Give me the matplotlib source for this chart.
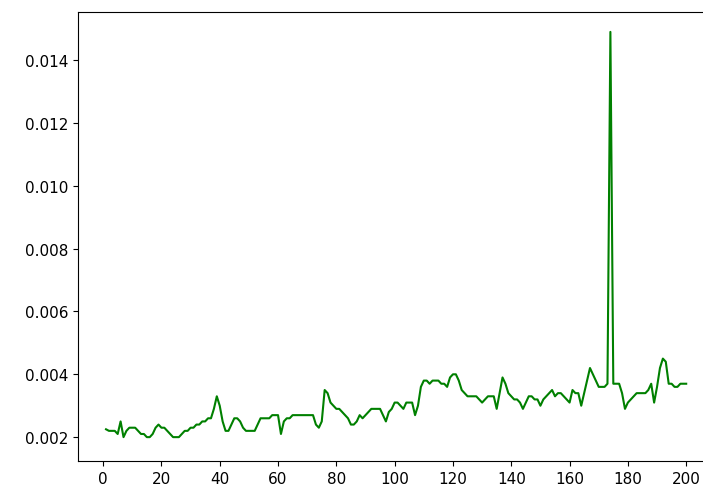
import matplotlib
matplotlib.use('Agg')
import numpy as np
import matplotlib.pyplot as plt

# значения по шагам 1..200
vals_1_33 = [0.00225, 0.0022, 0.0022, 0.0022, 0.0021, 0.0025, 0.0020, 0.0022, 0.0023, 0.0023,
             0.0023, 0.0022, 0.0021, 0.0021, 0.0020, 0.0020, 0.0021, 0.0023, 0.0024, 0.0023,
             0.0023, 0.0022, 0.0021, 0.0020, 0.0020, 0.0020, 0.0021, 0.0022, 0.0022, 0.0023,
             0.0023, 0.0024, 0.0024]
vals_34_65 = [0.0025, 0.0025, 0.0026, 0.0026, 0.0029, 0.0033, 0.0030, 0.0025, 0.0022, 0.0022,
              0.0024, 0.0026, 0.0026, 0.0025, 0.0023, 0.0022, 0.0022, 0.0022, 0.0022, 0.0024,
              0.0026, 0.0026, 0.0026, 0.0026, 0.0027, 0.0027, 0.0027, 0.0021, 0.0025, 0.0026,
              0.0026, 0.0027]
vals_66_98 = [0.0027, 0.0027, 0.0027, 0.0027, 0.0027, 0.0027, 0.0027, 0.0024, 0.0023, 0.0025,
              0.0035, 0.0034, 0.0031, 0.0030, 0.0029, 0.0029, 0.0028, 0.0027, 0.0026, 0.0024,
              0.0024, 0.0025, 0.0027, 0.0026, 0.0027, 0.0028, 0.0029, 0.0029, 0.0029, 0.0029,
              0.0027, 0.0025, 0.0028]
vals_99_131 = [0.0029, 0.0031, 0.0031, 0.0030, 0.0029, 0.0031, 0.0031, 0.0031, 0.0027, 0.0030,
               0.0036, 0.0038, 0.0038, 0.0037, 0.0038, 0.0038, 0.0038, 0.0037, 0.0037, 0.0036,
               0.0039, 0.0040, 0.0040, 0.0038, 0.0035, 0.0034, 0.0033, 0.0033, 0.0033, 0.0033,
               0.0032, 0.0031, 0.0032]
vals_132_163 = [0.0033, 0.0033, 0.0033, 0.0029, 0.0034, 0.0039, 0.0037, 0.0034, 0.0033, 0.0032,
                0.0032, 0.0031, 0.0029, 0.0031, 0.0033, 0.0033, 0.0032, 0.0032, 0.0030, 0.0032,
                0.0033, 0.0034, 0.0035, 0.0033, 0.0034, 0.0034, 0.0033, 0.0032, 0.0031, 0.0035,
                0.0034, 0.0034]
vals_164_200 = [0.0030, 0.0034, 0.0038, 0.0042, 0.0040, 0.0038, 0.0036, 0.0036, 0.0036, 0.0037,
                0.0149, 0.0037, 0.0037, 0.0037, 0.0034, 0.0029, 0.0031, 0.0032, 0.0033, 0.0034,
                0.0034, 0.0034, 0.0034, 0.0035, 0.0037, 0.0031, 0.0036, 0.0042, 0.0045, 0.0044,
                0.0037, 0.0037, 0.0036, 0.0036, 0.0037, 0.0037, 0.0037]

values = vals_1_33 + vals_34_65 + vals_66_98 + vals_99_131 + vals_132_163 + vals_164_200
steps = np.arange(1, len(values) + 1)

fig = plt.figure(figsize=(7.03, 4.89), dpi=100)
ax = fig.add_axes([0.111, 0.0552, 0.902, 0.918])  # правый край за пределами картинки
ax.plot(steps, values, color='g', linewidth=1.5)
ax.set_xlim(-8.6, 208.9)
ax.set_ylim(0.00124, 0.01553)
ax.set_xticks(np.arange(0, 201, 20))
ax.set_yticks(np.arange(0.002, 0.0141, 0.002))
ax.yaxis.set_major_formatter(matplotlib.ticker.FormatStrFormatter('%.3f'))
ax.tick_params(labelsize=11)

fig.savefig('out.png', dpi=100)
